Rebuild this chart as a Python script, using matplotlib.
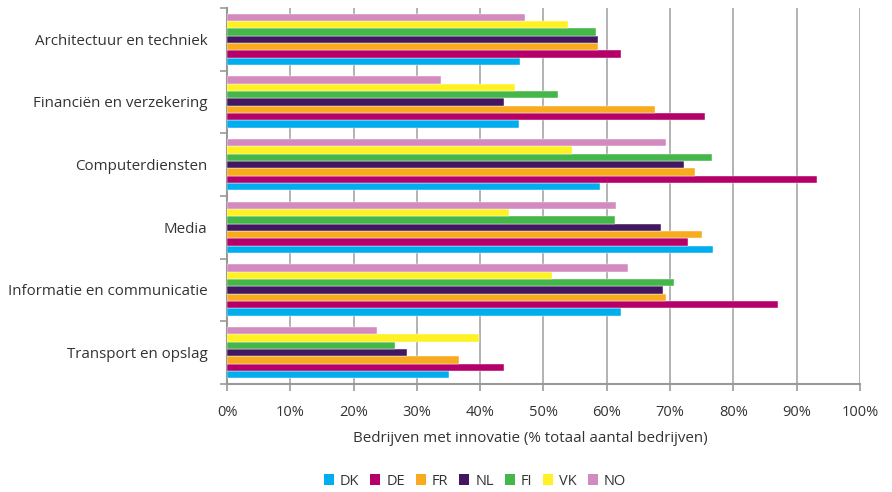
import matplotlib
matplotlib.use("Agg")
import matplotlib.pyplot as plt
from matplotlib.patches import Patch
import numpy as np

plt.rcParams['font.family'] = ['Open Sans', 'DejaVu Sans']

# categories, top to bottom as in the chart
categories = ["Architectuur en techniek", "Financiën en verzekering", "Computerdiensten",
              "Media", "Informatie en communicatie", "Transport en opslag"]
countries = ["DK", "DE", "FR", "NL", "FI", "VK", "NO"]
colors = ["#00aeef", "#b5006a", "#f9ab20", "#42175f", "#45b74a", "#fff122", "#d38bbf"]

# percentages per country, same order as categories
DK = [46.3, 46.1, 59.0, 76.8, 62.2, 35.1]
DE = [62.2, 75.6, 93.2, 72.9, 87.0, 43.7]
FR = [58.6, 67.7, 73.9, 75.0, 69.3, 36.7]
NL = [58.6, 43.8, 72.2, 68.5, 68.9, 28.5]
FI = [58.3, 52.3, 76.7, 61.3, 70.6, 26.5]
VK = [53.8, 45.5, 54.5, 44.6, 51.4, 39.8]
NO = [47.1, 33.8, 69.4, 61.4, 63.3, 23.7]
series = [DK, DE, FR, NL, FI, VK, NO]

fig = plt.figure(figsize=(8.92, 4.92), dpi=100)
ax = fig.add_axes([0.2545, 0.2195, 0.7095, 0.7645])

n = len(categories)
base = np.arange(n)[::-1]  # top category at highest y
h = 0.117
for i, (vals, c) in enumerate(zip(series, colors)):
    off = (i - 3) * h
    ax.barh(base + off, vals, height=h, color=c, edgecolor='white', linewidth=0.3, zorder=3)

ax.set_xlim(0, 100)
ax.set_ylim(-0.5, n - 0.5)
ax.set_xticks(np.arange(0, 101, 10))
ax.set_xticklabels([f"{v}%" for v in range(0, 101, 10)], fontsize=10.5, color='#333333')
ax.set_yticks(base)
ax.set_yticklabels(categories, fontsize=10.9, color='#333333')
ax.set_yticks(np.arange(-0.5, n, 1), minor=True)
ax.tick_params(axis='y', which='major', length=0, pad=14)
ax.tick_params(axis='y', which='minor', length=5, color='#999999', width=1.2)
ax.tick_params(axis='x', length=5, color='#999999', width=1.2, pad=10)

ax.grid(axis='x', color='#a6a6a6', linewidth=1.2, zorder=0)
for s in ['top', 'right']:
    ax.spines[s].set_visible(False)
for s in ['left', 'bottom']:
    ax.spines[s].set_color('#999999')
    ax.spines[s].set_linewidth(1.5)

ax.set_xlabel("Bedrijven met innovatie (% totaal aantal bedrijven)", fontsize=10.9,
              color='#333333', labelpad=8)
ax.xaxis.label.set_x(0.48)

handles = [Patch(facecolor=c, label=l) for l, c in zip(countries, colors)]
fig.legend(handles=handles, loc='center', bbox_to_anchor=(0.5325, 0.022), ncol=7,
           frameon=False, fontsize=10.5, handlelength=0.7, handleheight=0.7,
           handletextpad=0.4, columnspacing=0.75, labelcolor='#333333')

fig.savefig("out.png", dpi=100)
